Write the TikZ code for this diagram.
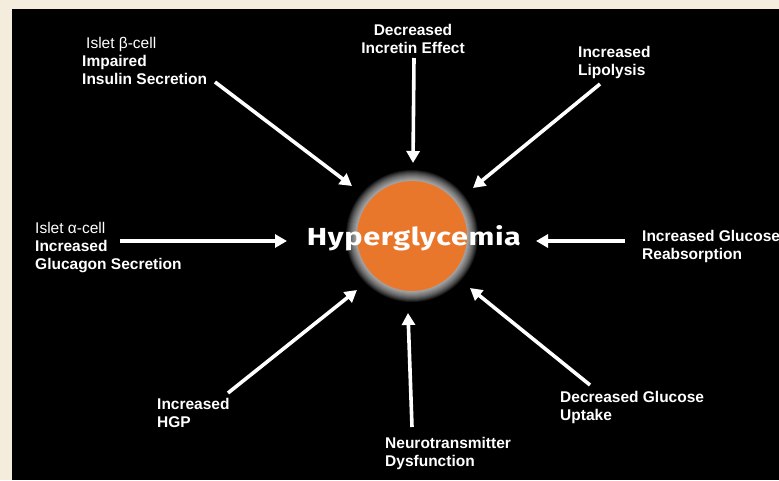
\documentclass[tikz,border=0pt]{standalone}
\usepackage{fontspec}
\setmainfont{Liberation Sans}
\newfontfamily\hyfont[LetterSpace=2]{Fira Sans}
\usetikzlibrary{arrows.meta}
\definecolor{beige}{HTML}{F4ECDC}
\definecolor{orng}{HTML}{E9772B}
\begin{document}
\begin{tikzpicture}[x=1pt,y=-1pt,
  lbl/.style={text=white, font=\fontsize{15.5}{18}\selectfont\bfseries, align=left, inner sep=0pt, anchor=north west},
  arr/.style={white, line width=3.6pt, -{Triangle[width=13pt,length=12pt]}}]
\useasboundingbox (0,0) rectangle (779,480);
\fill[beige] (0,0) rectangle (779,480);
\fill[black] (12,9) rectangle (779,480);
% glow
\foreach \r in {55,...,66} \fill[white, opacity=0.09] (412,236) circle (\r pt);
\node[circle, fill=orng, minimum size=110pt, inner sep=0pt] (circ) at (412,236) {};
\node[text=white, inner sep=0pt] (hyper) at (414,238) {\resizebox{214pt}{20pt}{\hyfont\bfseries Hyperglycemia}};
% labels
\node[lbl] (beta) at (82,37) {\hspace*{4pt}{\mdseries Islet β-cell}\\Impaired\\Insulin Secretion};
\node[lbl, anchor=north, align=center] (incretin) at (413,24) {Decreased\\Incretin Effect};
\node[lbl] (lipo) at (578,46) {Increased\\Lipolysis};
\node[lbl] (alpha) at (35,222) {{\mdseries Islet α-cell}\\Increased\\Glucagon Secretion};
\node[lbl] (reab) at (642,230) {Increased Glucose\\Reabsorption};
\node[lbl] (hgp) at (157,398) {Increased\\HGP};
\node[lbl] (neuro) at (385,437) {Neurotransmitter\\Dysfunction};
\node[lbl] (uptake) at (560,391) {Decreased Glucose\\Uptake};
% arrow ends
\coordinate (s1) at (215,82);  \coordinate (t1) at (352,186);
\coordinate (s2) at (414,58);  \coordinate (t2) at (413,163);
\coordinate (s3) at (600,84);  \coordinate (t3) at (473,188);
\coordinate (s4) at (120,241); \coordinate (t4) at (287,241);
\coordinate (s5) at (625,241); \coordinate (t5) at (536,241);
\coordinate (s6) at (228,393); \coordinate (t6) at (357,290);
\coordinate (s7) at (412,427); \coordinate (t7) at (408,313);
\coordinate (s8) at (590,385); \coordinate (t8) at (470,288);
\foreach \i in {1,...,8} \draw[arr] (s\i) -- (t\i);
\end{tikzpicture}
\end{document}
